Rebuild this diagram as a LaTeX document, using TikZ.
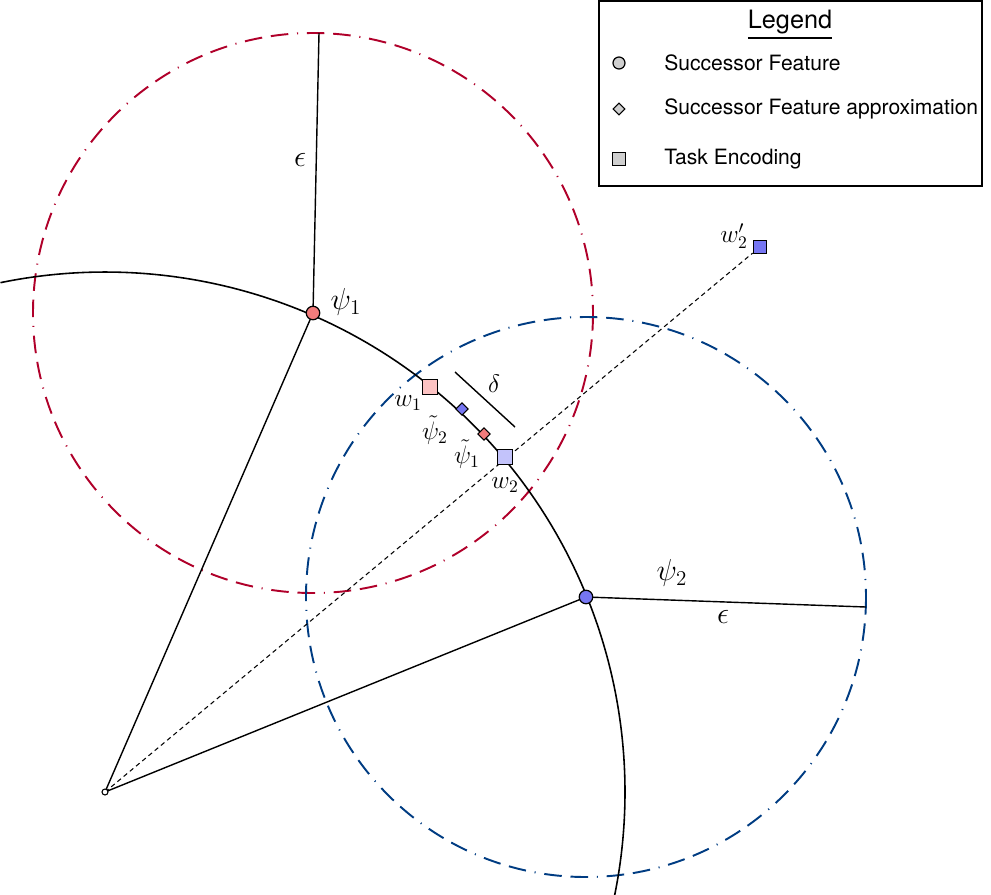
\documentclass[tikz,border=0pt]{standalone}
\usepackage{fontspec}
\usepackage{amsmath}
\setsansfont{TeX Gyre Heros}
\usetikzlibrary{positioning,shapes.geometric}
\definecolor{ringred}{HTML}{B0002A}
\definecolor{ringblue}{HTML}{003C82}
\definecolor{sfred}{HTML}{F27C7C}
\definecolor{sfblue}{HTML}{7676F2}
\definecolor{wred}{HTML}{FDC3C3}
\definecolor{wblue}{HTML}{C3C3FB}
\definecolor{keygray}{HTML}{CFCFCF}
\tikzset{
	ring/.style={line width=1.1pt,dash pattern=on 10pt off 5pt on 10pt off 5pt on 0.6pt off 5pt},
	feat/.style={circle,draw,line width=0.7pt,inner sep=0pt,minimum size=0.27cm},
	approx/.style={diamond,draw,line width=0.6pt,inner sep=0pt,minimum size=0.25cm},
	task/.style={rectangle,draw,line width=0.7pt,inner sep=0pt,minimum size=0.29cm},
	lab/.style={inner sep=1pt,font=\LARGE},
	wlab/.style={inner sep=0pt,font=\Large},
	keytext/.style={font=\sffamily\large,anchor=west,inner sep=0pt}
}
\begin{document}
\begin{tikzpicture}[x=0.02cm,y=-0.02cm]
	\useasboundingbox (0,0) rectangle (991,894);
	\clip (0,0) rectangle (991,894);
	% points
	\coordinate (o) at (105,792);
	\coordinate (p1) at (313,313);
	\coordinate (p2) at (586,597);
	\coordinate (e1) at (319,33);
	\coordinate (e2) at (866,607);
	\coordinate (d0) at (455,372);
	\coordinate (d1) at (515,427);
	% epsilon balls
	\draw[ring,ringred] (p1) circle[radius=280];
	\draw[ring,ringblue] (p2) circle[radius=280];
	% unit sphere
	\draw[line width=0.9pt] (o) ++(-101.6:520) arc[start angle=-101.6,end angle=12,radius=520];
	\draw[line width=0.8pt] (o) -- (p1) -- (e1);
	\draw[line width=0.8pt] (o) -- (p2) -- (e2);
	\draw[line width=0.8pt] (d0) -- (d1);
	\node[wlab] at (494,384) {$\delta$};
	% task vectors
	\node[task,fill=sfblue,minimum size=0.27cm] (w2p) at (760,247) {};
	\draw[line width=0.6pt,dash pattern=on 2.6pt off 2pt] (o) -- (w2p);
	\node[task,fill=wred] (w1) at (430,387) {};
	\node[task,fill=wblue] (w2) at (505,457) {};
	\node[approx,fill=sfblue] (t2) at (462,409) {};
	\node[approx,fill=sfred] (t1) at (484,434) {};
	\node[feat,fill=sfred] (psi1) at (p1) {};
	\node[feat,fill=sfblue] (psi2) at (p2) {};
	\draw[line width=0.6pt,fill=white] (o) circle[radius=3];
	% labels
	\node[lab] at (346,302) {$\psi_1$};
	\node[lab] at (672,573) {$\psi_2$};
	\node[lab] at (300,160) {$\epsilon$};
	\node[lab] at (723,617) {$\epsilon$};
	\node[wlab] at (408,403) {$w_1$};
	\node[wlab] at (505,485) {$w_2$};
	\node[wlab] at (435,430) {$\tilde{\psi}_2$};
	\node[wlab] at (467,454) {$\tilde{\psi}_1$};
	\node[wlab] at (734,236) {$w_2'$};
	% legend
	\draw[line width=0.9pt,fill=white] (599,1) rectangle (982,186);
	\node[font=\sffamily\Large] at (790,25) {\underline{Legend}};
	\node[feat,fill=keygray,minimum size=0.24cm] (k1) at (619,63) {};
	\node[approx,fill=keygray,minimum size=0.24cm] (k2) at (619,109) {};
	\node[task,fill=keygray,minimum size=0.25cm] (k3) at (619,159) {};
	\node[keytext,right=0.9cm of k1.center] {Successor Feature};
	\node[keytext,right=0.9cm of k2.center] {Successor Feature approximation};
	\node[keytext,right=0.9cm of k3.center] {Task Encoding};
\end{tikzpicture}
\end{document}
